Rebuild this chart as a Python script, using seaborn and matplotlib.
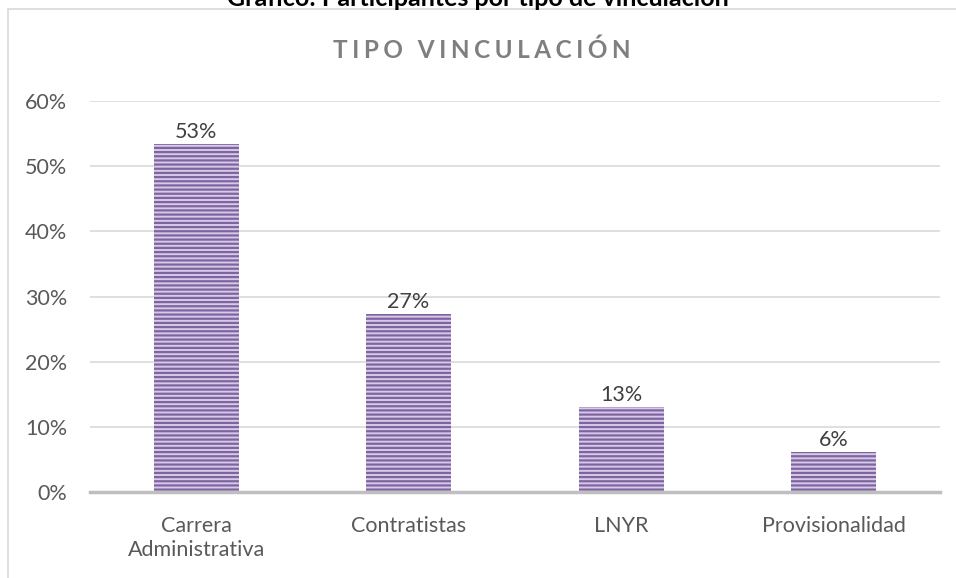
import seaborn as sns
import matplotlib.pyplot as plt
from matplotlib.patches import Rectangle
from matplotlib.ticker import PercentFormatter

categorias = ['Carrera\nAdministrativa', 'Contratistas', 'LNYR', 'Provisionalidad']
porcentajes = [0.534, 0.273, 0.13, 0.061]
etiquetas = ['53%', '27%', '13%', '6%']

sns.set_style('white')
plt.rcParams['font.family'] = ['Lato', 'DejaVu Sans']
plt.rcParams['hatch.linewidth'] = 1.6

fig = plt.figure(figsize=(9.56, 5.78), dpi=100)
ax = fig.add_axes([0.094, 0.149, 0.889, 0.676])

sns.barplot(x=categorias, y=porcentajes, color='#d6cbe6', width=0.4, ax=ax,
            saturation=1)
for p in ax.patches:
    p.set_hatch('----')
    p.set_edgecolor('#8064a2')
    p.set_linewidth(0)

for p, txt in zip(ax.patches, etiquetas):
    ax.annotate(txt, (p.get_x() + p.get_width() / 2, p.get_height()),
                xytext=(0, 4.5), textcoords='offset points', ha='center',
                va='baseline', fontsize=15.5, color='#404040')

ax.set_ylim(0, 0.6)
ax.set_yticks([0, 0.1, 0.2, 0.3, 0.4, 0.5, 0.6])
ax.yaxis.set_major_formatter(PercentFormatter(1.0, decimals=0))
ax.grid(axis='y', color='#d9d9d9', linewidth=1.2)
ax.set_axisbelow(True)
for s in ['top', 'right', 'left']:
    ax.spines[s].set_visible(False)
ax.spines['bottom'].set_color('#bfbfbf')
ax.spines['bottom'].set_linewidth(2.5)
ax.tick_params(axis='both', length=0, labelsize=15.5, labelcolor='#595959')
ax.tick_params(axis='x', pad=17.5)
ax.tick_params(axis='y', pad=16.5)
for lbl in ax.get_xticklabels():
    lbl.set_linespacing(1.25)
ax.set_xlabel('')
ax.set_ylabel('')

# marco del gráfico
fig.patches.append(Rectangle((7.5 / 956, -0.05), 1.0, 1 - 9 / 578 + 0.05,
                             transform=fig.transFigure, fill=False,
                             edgecolor='#d9d9d9', linewidth=1.2))

sep = '\u2009\u200a'
titulo = sep.join('TIPO') + sep + ' ' + sep + sep.join('VINCULACIÓN')
fig.text(0.504, 1 - 58 / 578, titulo, ha='center', va='baseline',
         fontsize=17.5, fontweight='bold', color='#7f7f7f')
fig.text(0.5, 1 - 6 / 578, 'Gráfico: Participantes por tipo de vinculación',
         ha='center', va='baseline', fontsize=18, fontweight='bold', color='black')

fig.savefig('out.png', dpi=100)
